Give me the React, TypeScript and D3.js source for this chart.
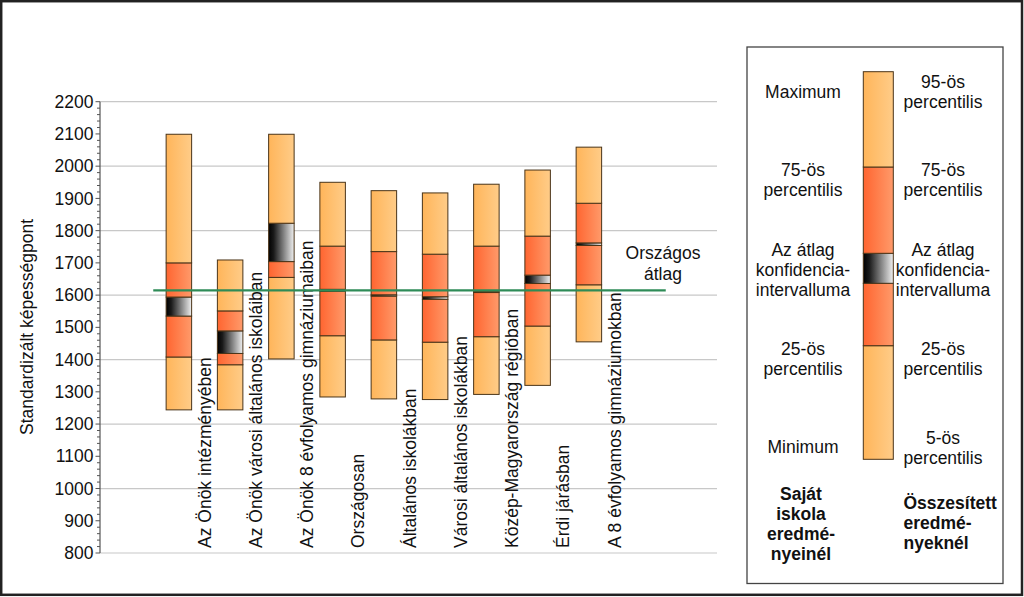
import React from "react";
import * as d3 from "d3";

const categories = [
  "Az Önök intézményében",
  "Az Önök városi általános iskoláiban",
  "Az Önök 8 évfolyamos gimnáziumaiban",
  "Országosan",
  "Általános iskolákban",
  "Városi általános iskolákban",
  "Közép-Magyarország régióban",
  "Érdi járásban",
  "A 8 évfolyamos gimnáziumokban",
];
const minVals = [1244, 1244, 1402, 1284, 1278, 1276, 1292, 1320, 1455];
const p25Vals = [1408, 1384, 1655, 1474, 1461, 1454, 1471, 1504, 1632];
const ciLowVals = [1535, 1419, 1704, 1612, 1597, 1587, 1608, 1636, 1754];
const ciHighVals = [1594, 1489, 1823, 1618, 1601, 1595, 1612, 1662, 1762];
const p75Vals = [1700, 1551, 1823, 1752, 1735, 1727, 1752, 1783, 1885];
const maxVals = [2099, 1709, 2099, 1950, 1924, 1917, 1944, 1988, 2059];
const nationalMean = 1615;
const yTicks = [800, 900, 1000, 1100, 1200, 1300, 1400, 1500, 1600, 1700, 1800, 1900, 2000, 2100, 2200];
const legendLeft = [
  { lines: ["Maximum"], y: 92 },
  { lines: ["75-ös", "percentilis"], y: 180 },
  { lines: ["Az átlag", "konfidencia-", "intervalluma"], y: 270 },
  { lines: ["25-ös", "percentilis"], y: 359 },
  { lines: ["Minimum"], y: 447 },
];
const legendRight = [
  { lines: ["95-ös", "percentilis"], y: 92 },
  { lines: ["75-ös", "percentilis"], y: 180 },
  { lines: ["Az átlag", "konfidencia-", "intervalluma"], y: 270 },
  { lines: ["25-ös", "percentilis"], y: 359 },
  { lines: ["5-ös", "percentilis"], y: 448 },
];
const legendBoldLeft = ["Saját", "iskola", "eredmé-", "nyeinél"];
const legendBoldRight = ["Összesített", "eredmé-", "nyeknél"];
const legendSample = { min: 1000, p25: 1300, ciLow: 1480, ciHigh: 1580, p75: 1850, max: 2200 };

const FONT = "'Liberation Sans', Arial, sans-serif";
const FS = 17.5;

export default function App() {
  const slots = ["_0", ...categories, "_10", "_11"];
  const x = d3.scaleBand().domain(slots).range([102, 717]);
  const y = d3.scaleLinear().domain([800, 2200]).range([553, 101.7]);
  const bw = 25.5;
  const minorTicks = d3.range(800, 2201, 20);
  const gridTicks = d3.range(800, 2201, 200);

  const segs = (i: number) => [
    [minVals[i], p25Vals[i], "url(#gLight)"],
    [p25Vals[i], ciLowVals[i], "url(#gRed)"],
    [ciLowVals[i], ciHighVals[i], "url(#gCI)"],
    [ciHighVals[i], p75Vals[i], "url(#gRed)"],
    [p75Vals[i], maxVals[i], "url(#gLight)"],
  ] as [number, number, string][];

  // legend scale
  const ly = d3.scaleLinear().domain([legendSample.min, legendSample.max]).range([459.3, 71.7]);
  const legSegs: [number, number, string][] = [
    [legendSample.min, legendSample.p25, "url(#gLight)"],
    [legendSample.p25, legendSample.ciLow, "url(#gRed)"],
    [legendSample.ciLow, legendSample.ciHigh, "url(#gCI)"],
    [legendSample.ciHigh, legendSample.p75, "url(#gRed)"],
    [legendSample.p75, legendSample.max, "url(#gLight)"],
  ];
  const legScaleFix = (v: number) => {
    // map legend sample boundaries to observed positions
    const m: Record<number, number> = { 1000: 459.3, 1300: 345.7, 1480: 283.3, 1580: 253.3, 1850: 167, 2200: 71.7 };
    return m[v] ?? ly(v);
  };

  const stroke = "#4a3418";

  return (
    <svg width={1024} height={597} style={{ position: "absolute", left: 0, top: 0, background: "#fff" }} fontFamily={FONT}>
      <defs>
        <linearGradient id="gLight" x1="0" x2="1" y1="0" y2="0">
          <stop offset="0" stopColor="#FFB55A" />
          <stop offset="1" stopColor="#FFCC88" />
        </linearGradient>
        <linearGradient id="gRed" x1="0" x2="1" y1="0" y2="0">
          <stop offset="0" stopColor="#FF6530" />
          <stop offset="1" stopColor="#FF9A6A" />
        </linearGradient>
        <linearGradient id="gCI" x1="0" x2="1" y1="0" y2="0">
          <stop offset="0" stopColor="#000000" />
          <stop offset="0.2" stopColor="#1a1a1a" />
          <stop offset="1" stopColor="#f0f0f0" />
        </linearGradient>
      </defs>
      <rect x={0} y={0} width={1024} height={597} fill="#fff" />
      <rect x={1.2} y={1.2} width={1020.8} height={593.6} fill="none" stroke="#222" strokeWidth={2.5} />

      {/* gridlines */}
      {gridTicks.map((t) => (
        <line key={"g" + t} x1={100} x2={717} y1={y(t)} y2={y(t)} stroke="#c8c8c8" strokeWidth={1.2} />
      ))}
      {/* y axis */}
      <line x1={100} x2={100} y1={y(2200)} y2={y(800)} stroke="#555" strokeWidth={1.2} />
      {minorTicks.map((t) => (
        <line key={"m" + t} x1={t % 100 === 0 ? 95.5 : 97} x2={100} y1={y(t)} y2={y(t)} stroke="#555" strokeWidth={1} />
      ))}
      {yTicks.map((t) => (
        <text key={"t" + t} x={93.5} y={y(t)} dy="0.35em" textAnchor="end" fontSize={FS} fill="#111">
          {t}
        </text>
      ))}
      <text transform={`translate(27,327) rotate(-90)`} textAnchor="middle" dy="0.35em" fontSize={FS} fill="#111">
        Standardizált képességpont
      </text>

      {/* bars */}
      {categories.map((c, i) => {
        const cx = (x(c) as number) + x.bandwidth() / 2;
        return (
          <g key={c}>
            {segs(i).map(([a, b, f], j) =>
              b > a ? (
                <rect key={j} x={cx - bw / 2} width={bw} y={y(b)} height={y(a) - y(b)} fill={f} stroke={stroke} strokeWidth={1} />
              ) : null
            )}
          </g>
        );
      })}

      {/* category labels */}
      {categories.map((c) => {
        const lx = (x(c) as number) + x.bandwidth();
        return (
          <text key={"l" + c} transform={`translate(${lx},548) rotate(-90)`} dy="0.35em" textAnchor="start" fontSize={FS} fill="#111">
            {c}
          </text>
        );
      })}

      {/* national mean line */}
      <line x1={x(categories[0]) as number} x2={(x("_10") as number) + x.bandwidth()} y1={y(nationalMean)} y2={y(nationalMean)} stroke="#2e8b57" strokeWidth={2.2} />
      <text x={663} y={252.5} dy="0.35em" textAnchor="middle" fontSize={FS} fill="#111">Országos</text>
      <text x={663} y={273.5} dy="0.35em" textAnchor="middle" fontSize={FS} fill="#111">átlag</text>

      {/* legend */}
      <rect x={747} y={47} width={256} height={536.5} fill="#fff" stroke="#444" strokeWidth={1.3} />
      {legSegs.map(([a, b, f], j) => (
        <rect key={"ls" + j} x={863.3} width={30} y={legScaleFix(b)} height={legScaleFix(a) - legScaleFix(b)} fill={f} stroke={stroke} strokeWidth={1} />
      ))}
      {legendLeft.map((g, gi) =>
        g.lines.map((l, li) => (
          <text key={"ll" + gi + li} x={803} y={g.y + (li - (g.lines.length - 1) / 2) * 20} dy="0.35em" textAnchor="middle" fontSize={FS} fill="#111">
            {l}
          </text>
        ))
      )}
      {legendRight.map((g, gi) =>
        g.lines.map((l, li) => (
          <text key={"lr" + gi + li} x={943} y={g.y + (li - (g.lines.length - 1) / 2) * 20} dy="0.35em" textAnchor="middle" fontSize={FS} fill="#111">
            {l}
          </text>
        ))
      )}
      {legendBoldLeft.map((l, i) => (
        <text key={"bl" + i} x={801} y={493.5 + i * 20} dy="0.35em" textAnchor="middle" fontSize={FS} fontWeight="bold" fill="#111">
          {l}
        </text>
      ))}
      {legendBoldRight.map((l, i) => (
        <text key={"br" + i} x={903.5} y={503 + i * 20} dy="0.35em" textAnchor="start" fontSize={FS} fontWeight="bold" fill="#111">
          {l}
        </text>
      ))}
    </svg>
  );
}
